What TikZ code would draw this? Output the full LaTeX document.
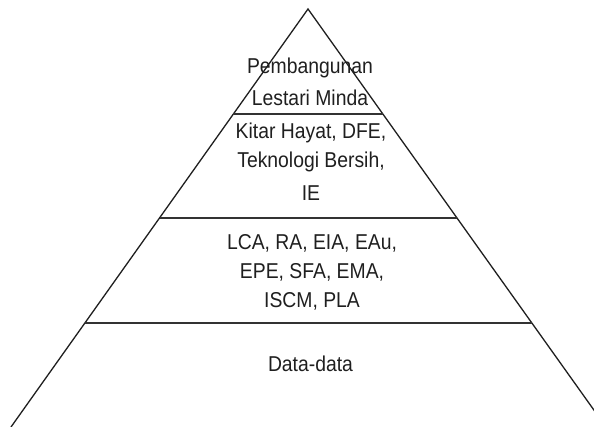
\documentclass[tikz,border=0pt]{standalone}
\usepackage{fontspec}
\setmainfont{Liberation Sans}[FakeStretch=0.9]
\usetikzlibrary{calc}
\begin{document}
\begin{tikzpicture}[x=1pt,y=-1pt,
  side/.style={line width=1.3pt, draw=black!88},
  tier/.style={line width=1.8pt, draw=black!80},
  label/.style={font=\fontsize{21.5}{29}\selectfont, text=black!88,
    align=center, anchor=base, inner sep=0pt}]
\useasboundingbox (0,0) rectangle (594,427);
% pyramid outline
\coordinate (apex) at (308,9);
\coordinate (bl) at (11,427);
\coordinate (br) at (606,427);
\begin{scope}
  \clip (0,0) rectangle (594,427);
  \draw[side] (bl) -- (apex) -- (br);
\end{scope}
% tier separators
\foreach \t in {0.2512,0.5,0.7512}
  \draw[tier] ($(apex)!\t!(bl)$) -- ($(apex)!\t!(br)$);
% tier labels (anchored on the baseline of their last line)
\node[label] (top) at (310,106) {Pembangunan\\[3pt]Lestari Minda};
\node[label] (upper) at (311,201) {Kitar Hayat, DFE,\\Teknologi Bersih,\\[4pt]IE};
\node[label] (lower) at (312,308) {LCA, RA, EIA, EAu,\\EPE, SFA, EMA,\\ISCM, PLA};
\node[label] (base) at (310.5,371) {Data-data};
\end{tikzpicture}
\end{document}
